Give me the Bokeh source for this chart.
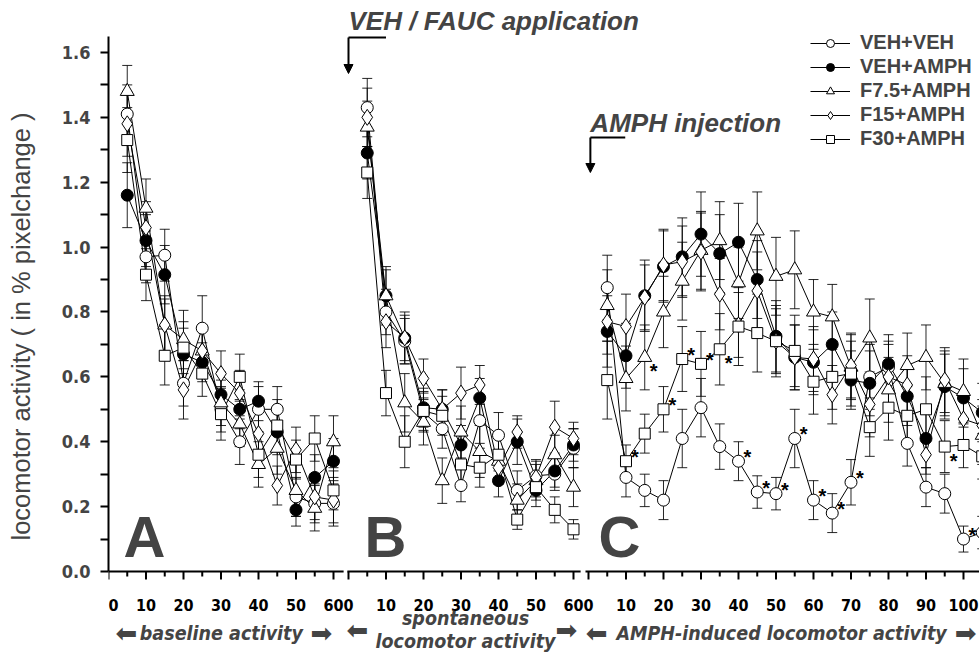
import numpy as np
from bokeh.plotting import figure
from bokeh.models import (Range1d, FixedTicker, NumeralTickFormatter, Label, Legend,
                          LegendItem, Arrow, NormalHead, ColumnDataSource)
from bokeh.core.properties import value
from bokeh.embed import file_html
from bokeh.resources import INLINE

# ---------------- data ----------------
groups = ["VEH+VEH", "VEH+AMPH", "F7.5+AMPH", "F15+AMPH", "F30+AMPH"]

time_A = [5, 10, 15, 20, 25, 30, 35, 40, 45, 50, 55, 60]
time_B = [5, 10, 15, 20, 25, 30, 35, 40, 45, 50, 55, 60]
time_C = [5, 10, 15, 20, 25, 30, 35, 40, 45, 50, 55, 60, 65, 70, 75, 80, 85, 90, 95, 100, 105]

# panel A : baseline activity
A_veh_veh = [1.41, 0.97, 0.975, 0.58, 0.75, 0.50, 0.40, 0.50, 0.50, 0.23, 0.21, 0.21]
A_veh_amph = [1.16, 1.02, 0.915, 0.67, 0.645, 0.545, 0.50, 0.525, 0.43, 0.19, 0.29, 0.34]
A_f75 = [1.48, 1.12, 0.76, 0.715, 0.68, 0.52, 0.455, 0.33, 0.38, 0.25, 0.195, 0.40]
A_f15 = [1.38, 1.06, 0.76, 0.56, 0.68, 0.61, 0.55, 0.425, 0.265, 0.375, 0.23, 0.22]
A_f30 = [1.33, 0.915, 0.665, 0.69, 0.61, 0.485, 0.60, 0.36, 0.45, 0.345, 0.41, 0.25]
A_veh_veh_sem = [0.09, 0.08, 0.08, 0.07, 0.10, 0.07, 0.07, 0.07, 0.07, 0.06, 0.06, 0.07]
A_veh_amph_sem = [0.10, 0.08, 0.09, 0.08, 0.06, 0.07, 0.06, 0.06, 0.07, 0.05, 0.07, 0.07]
A_f75_sem = [0.08, 0.09, 0.09, 0.09, 0.07, 0.07, 0.07, 0.07, 0.08, 0.08, 0.07, 0.08]
A_f15_sem = [0.10, 0.08, 0.08, 0.09, 0.07, 0.07, 0.07, 0.08, 0.06, 0.07, 0.07, 0.07]
A_f30_sem = [0.10, 0.08, 0.09, 0.08, 0.07, 0.08, 0.07, 0.07, 0.08, 0.06, 0.07, 0.06]

# panel B : spontaneous locomotor activity
B_veh_veh = [1.43, 0.80, 0.71, 0.49, 0.44, 0.265, 0.465, 0.42, 0.25, 0.295, 0.30, 0.38]
B_veh_amph = [1.29, 0.85, 0.72, 0.505, 0.50, 0.39, 0.535, 0.28, 0.40, 0.25, 0.31, 0.39]
B_f75 = [1.37, 0.85, 0.52, 0.46, 0.28, 0.43, 0.37, 0.34, 0.22, 0.28, 0.36, 0.26]
B_f15 = [1.40, 0.77, 0.72, 0.595, 0.50, 0.55, 0.575, 0.32, 0.43, 0.29, 0.445, 0.41]
B_f30 = [1.23, 0.55, 0.40, 0.495, 0.48, 0.33, 0.32, 0.36, 0.16, 0.26, 0.19, 0.13]
B_veh_veh_sem = [0.09, 0.07, 0.07, 0.06, 0.06, 0.05, 0.07, 0.07, 0.06, 0.05, 0.05, 0.06]
B_veh_amph_sem = [0.08, 0.08, 0.07, 0.06, 0.06, 0.06, 0.06, 0.05, 0.07, 0.05, 0.05, 0.05]
B_f75_sem = [0.08, 0.09, 0.09, 0.07, 0.07, 0.08, 0.08, 0.07, 0.05, 0.05, 0.06, 0.06]
B_f15_sem = [0.09, 0.08, 0.08, 0.06, 0.06, 0.08, 0.06, 0.05, 0.05, 0.05, 0.08, 0.05]
B_f30_sem = [0.08, 0.07, 0.08, 0.06, 0.06, 0.06, 0.06, 0.05, 0.03, 0.04, 0.04, 0.03]

# panel C : AMPH-induced locomotor activity
C_veh_veh = [0.875, 0.29, 0.25, 0.22, 0.41, 0.505, 0.385, 0.34, 0.245, 0.24, 0.41,
             0.22, 0.18, 0.275, 0.60, 0.63, 0.395, 0.26, 0.24, 0.10, 0.12]
C_veh_amph = [0.74, 0.665, 0.85, 0.94, 0.97, 1.04, 0.98, 1.015, 0.90, 0.725, 0.66,
              0.645, 0.70, 0.59, 0.58, 0.64, 0.54, 0.41, 0.57, 0.535, 0.49]
C_f75 = [0.82, 0.595, 0.66, 0.80, 0.895, 0.99, 1.02, 0.89, 1.05, 0.91, 0.93,
         0.80, 0.785, 0.63, 0.72, 0.56, 0.635, 0.66, 0.58, 0.555, 0.42]
C_f15 = [0.77, 0.755, 0.845, 0.945, 0.955, 0.985, 0.855, 0.76, 0.865, 0.71, 0.66,
         0.655, 0.545, 0.635, 0.515, 0.60, 0.575, 0.36, 0.59, 0.47, 0.45]
C_f30 = [0.59, 0.34, 0.425, 0.50, 0.655, 0.64, 0.685, 0.755, 0.735, 0.71, 0.68,
         0.585, 0.60, 0.61, 0.445, 0.505, 0.48, 0.50, 0.385, 0.39, 0.355]
C_veh_veh_sem = [0.10, 0.06, 0.05, 0.06, 0.09, 0.09, 0.07, 0.06, 0.05, 0.05, 0.09,
                 0.06, 0.06, 0.07, 0.10, 0.08, 0.07, 0.06, 0.06, 0.04, 0.05]
C_veh_amph_sem = [0.11, 0.10, 0.11, 0.11, 0.12, 0.13, 0.12, 0.12, 0.12, 0.11, 0.10,
                  0.10, 0.10, 0.09, 0.10, 0.09, 0.09, 0.09, 0.10, 0.09, 0.09]
C_f75_sem = [0.11, 0.10, 0.10, 0.11, 0.12, 0.12, 0.12, 0.11, 0.12, 0.12, 0.12,
             0.10, 0.10, 0.10, 0.12, 0.10, 0.10, 0.10, 0.10, 0.10, 0.09]
C_f15_sem = [0.10, 0.10, 0.10, 0.11, 0.11, 0.12, 0.11, 0.10, 0.12, 0.10, 0.10,
             0.10, 0.09, 0.10, 0.10, 0.10, 0.09, 0.06, 0.10, 0.08, 0.08]
C_f30_sem = [0.12, 0.05, 0.06, 0.07, 0.10, 0.10, 0.11, 0.12, 0.12, 0.11, 0.11,
             0.10, 0.10, 0.10, 0.09, 0.10, 0.09, 0.10, 0.08, 0.07, 0.07]

# significance asterisks in panel C: (group, time)
stars_above = [("F30+AMPH", 10), ("F30+AMPH", 20), ("F30+AMPH", 25), ("F30+AMPH", 30),
               ("VEH+VEH", 40), ("VEH+VEH", 45), ("VEH+VEH", 50), ("VEH+VEH", 55),
               ("VEH+VEH", 60), ("VEH+VEH", 65), ("VEH+VEH", 70), ("VEH+VEH", 100)]
stars_below = [("F7.5+AMPH", 15), ("F30+AMPH", 35), ("F30+AMPH", 95)]

ticks_A = [0, 10, 20, 30, 40, 50, 60]
ticks_B = [0, 10, 20, 30, 40, 50, 60]
ticks_C = [0, 10, 20, 30, 40, 50, 60, 70, 80, 90, 100]
minor_A = [5, 15, 25, 35, 45, 55]
minor_B = [5, 15, 25, 35, 45, 55]
minor_C = [5, 15, 25, 35, 45, 55, 65, 75, 85, 95, 105]
y_ticks = [0.0, 0.2, 0.4, 0.6, 0.8, 1.0, 1.2, 1.4, 1.6]
y_minor = [0.1, 0.3, 0.5, 0.7, 0.9, 1.1, 1.3, 1.5]

panel_times = {"A": time_A, "B": time_B, "C": time_C}
panel_values = {
    "A": dict(zip(groups, [A_veh_veh, A_veh_amph, A_f75, A_f15, A_f30])),
    "B": dict(zip(groups, [B_veh_veh, B_veh_amph, B_f75, B_f15, B_f30])),
    "C": dict(zip(groups, [C_veh_veh, C_veh_amph, C_f75, C_f15, C_f30])),
}
panel_sems = {
    "A": dict(zip(groups, [A_veh_veh_sem, A_veh_amph_sem, A_f75_sem, A_f15_sem, A_f30_sem])),
    "B": dict(zip(groups, [B_veh_veh_sem, B_veh_amph_sem, B_f75_sem, B_f15_sem, B_f30_sem])),
    "C": dict(zip(groups, [C_veh_veh_sem, C_veh_amph_sem, C_f75_sem, C_f15_sem, C_f30_sem])),
}
panel_ticks = {"A": ticks_A, "B": ticks_B, "C": ticks_C}
panel_minor = {"A": minor_A, "B": minor_B, "C": minor_C}

# ---------------- layout / style ----------------
PX = 324.4                                              # pixels per y unit
panel_offset = {"A": 0.0, "B": 64.0, "C": 128.0}        # minutes along the shared x scale
axis_span = {"A": (0.0, 62.7), "B": (-0.3, 61.9), "C": (-0.8, 106.0)}
marker_style = {
    "VEH+VEH": dict(marker="circle", size=12, fill_color="white"),
    "VEH+AMPH": dict(marker="circle", size=12, fill_color="black"),
    "F7.5+AMPH": dict(marker="triangle", size=14, fill_color="white"),
    "F15+AMPH": dict(marker="diamond", size=16, fill_color="white"),
    "F30+AMPH": dict(marker="square", size=11, fill_color="white"),
}
COND = "DejaVu Sans Condensed"
SANS = "Liberation Sans"

p = figure(width=979, height=652, x_range=Range1d(0, 232.27),
           y_range=Range1d(-81 / PX, 571 / PX), output_backend="svg",
           toolbar_location=None, x_axis_location=None,
           min_border_left=108, min_border_right=0, min_border_top=0, min_border_bottom=0)
p.outline_line_color = None
p.grid.visible = False
p.background_fill_color = "white"

# y axis (library axis on the left)
yax = p.yaxis[0]
yax.ticker = FixedTicker(ticks=y_ticks, minor_ticks=y_minor)
yax.formatter = NumeralTickFormatter(format="0.0")
yax.bounds = (0, 1.65)
yax.axis_line_width = 2
yax.major_tick_line_width = 2
yax.minor_tick_line_width = 2
yax.major_tick_in = 0
yax.major_tick_out = 8
yax.minor_tick_in = 0
yax.minor_tick_out = 8
yax.major_label_text_font = COND
yax.major_label_text_font_style = "bold"
yax.major_label_text_font_size = "18px"
yax.major_label_standoff = 10
yax.axis_label = "locomotor activity ( in % pixelchange )"
yax.axis_label_text_font = SANS
yax.axis_label_text_font_style = "normal"
yax.axis_label_text_font_size = "25.5px"
yax.axis_label_standoff = 24

# x axes of the three panels (broken baseline, ticks, tick labels)
for key in ["A", "B", "C"]:
    off = panel_offset[key]
    a0, a1 = axis_span[key]
    p.segment(x0=[off + a0], y0=[0], x1=[off + a1], y1=[0], line_color="black", line_width=2)
    maj = [off + t for t in panel_ticks[key]]
    mnr = [off + t for t in panel_minor[key]]
    p.segment(x0=maj, y0=[0] * len(maj), x1=maj, y1=[-8 / PX] * len(maj),
              line_color="black", line_width=2)
    p.segment(x0=mnr, y0=[0] * len(mnr), x1=mnr, y1=[-5 / PX] * len(mnr),
              line_color="black", line_width=2)
    labels = [str(t) for t in panel_ticks[key]]
    aligns = ["left" if (key == "A" and t == 0) else "center" for t in panel_ticks[key]]
    src = ColumnDataSource(dict(x=maj, y=[0] * len(maj), text=labels, align=aligns))
    p.text(x="x", y="y", text="text", text_align="align", source=src,
           y_offset=33, text_font=value(COND), text_font_style="bold",
           text_font_size=value("16px"), text_baseline="middle", text_color="black")

# series
legend_renderers = {}
sources = {}
for key in ["A", "B", "C"]:
    off = panel_offset[key]
    for g in groups:
        t = np.array(panel_times[key], dtype=float)
        y = np.array(panel_values[key][g])
        s = np.array(panel_sems[key][g])
        src = ColumnDataSource(dict(x=t + off, y=y, lo=y - s, hi=y + s))
        sources[(key, g)] = src
        p.segment(x0="x", y0="lo", x1="x", y1="hi", source=src, line_color="black",
                  line_width=1, line_alpha=0.85)
        p.scatter(x="x", y="lo", marker="dash", size=10, line_color="black", line_width=1,
                  source=src, line_alpha=0.85)
        p.scatter(x="x", y="hi", marker="dash", size=10, line_color="black", line_width=1,
                  source=src, line_alpha=0.85)
        ln = p.line(x="x", y="y", source=src, line_color="black", line_width=1)
        legend_renderers[(key, g, "line")] = ln

for key in ["A", "B", "C"]:
    for g in groups:
        st = marker_style[g]
        sc = p.scatter(x="x", y="y", source=sources[(key, g)], marker=st["marker"],
                       size=st["size"], fill_color=st["fill_color"], line_color="black",
                       line_width=1)
        legend_renderers[(key, g, "marker")] = sc

# asterisks
def star_xy(lst):
    xs, ys = [], []
    for g, tt in lst:
        i = time_C.index(tt)
        xs.append(panel_offset["C"] + tt)
        ys.append(panel_values["C"][g][i])
    return xs, ys

sx, sy = star_xy(stars_above)
p.text(x=sx, y=sy, text=["*"] * len(sx), x_offset=9, y_offset=-4,
       text_font=value(SANS), text_font_size=value("20px"), text_font_style="bold",
       text_align="center", text_baseline="middle", text_color="black")
sx, sy = star_xy(stars_below)
p.text(x=sx, y=sy, text=["*"] * len(sx), x_offset=9, y_offset=14,
       text_font=value(SANS), text_font_size=value("20px"), text_font_style="bold",
       text_align="center", text_baseline="middle", text_color="black")

# legend
items = [LegendItem(label=g, renderers=[legend_renderers[("C", g, "line")],
                                        legend_renderers[("C", g, "marker")]])
         for g in groups]
legend = Legend(items=items, location=(702, 502), margin=0, padding=4, spacing=1,
                label_height=20, glyph_height=20, glyph_width=40, label_standoff=10,
                border_line_color=None, background_fill_alpha=0,
                label_text_font=SANS, label_text_font_style="bold",
                label_text_font_size="20px")
p.add_layout(legend)

# panel letters
for key, xl in [("A", 4.0), ("B", 4.3), ("C", 2.7)]:
    p.add_layout(Label(x=panel_offset[key] + xl, y=35 / PX, text=key, text_font=SANS,
                       text_font_style="bold", text_font_size="58px",
                       text_align="left", text_baseline="middle"))

# event annotations
p.add_layout(Label(x=panel_offset["B"], y=551 / PX, text="VEH / FAUC application",
                   text_font=SANS, text_font_style="bold italic", text_font_size="26px",
                   text_align="left", text_baseline="middle"))
p.segment(x0=[panel_offset["B"]], y0=[534 / PX], x1=[panel_offset["B"] + 10], y1=[534 / PX],
          line_color="black", line_width=2)
p.add_layout(Arrow(end=NormalHead(size=9, fill_color="black", line_color="black"),
                   x_start=panel_offset["B"], y_start=534 / PX, x_end=panel_offset["B"],
                   y_end=498 / PX, line_width=2, line_color="black"))

p.add_layout(Label(x=panel_offset["C"] + 0.5, y=449 / PX, text="AMPH injection",
                   text_font=SANS, text_font_style="bold italic", text_font_size="26px",
                   text_align="left", text_baseline="middle"))
p.segment(x0=[panel_offset["C"] + 0.5], y0=[434 / PX], x1=[panel_offset["C"] + 9.8],
          y1=[434 / PX], line_color="black", line_width=2)
p.add_layout(Arrow(end=NormalHead(size=9, fill_color="black", line_color="black"),
                   x_start=panel_offset["C"] + 0.5, y_start=434 / PX,
                   x_end=panel_offset["C"] + 0.5, y_end=399 / PX,
                   line_width=2, line_color="black"))

# phase labels under the x axis
lab_kw = dict(text_font=COND, text_font_style="bold italic", text_font_size="19.5px",
              text_align="center", text_baseline="middle")
arr_kw = dict(text_font="DejaVu Sans", text_font_style="normal", text_font_size="26px",
              text_align="center", text_baseline="middle")
p.add_layout(Label(x=panel_offset["A"] + 30.1, y=-62 / PX, text="baseline activity", **lab_kw))
p.add_layout(Label(x=panel_offset["B"] + 31.2, y=-47 / PX, text="spontaneous", **lab_kw))
p.add_layout(Label(x=panel_offset["B"] + 31.2, y=-70 / PX, text="locomotor activity", **lab_kw))
p.add_layout(Label(x=panel_offset["C"] + 51.5, y=-62 / PX,
                   text="AMPH-induced locomotor activity", **lab_kw))
for key, xl, xr, yy in [("A", 4.8, 56.8, -61), ("B", 2.4, 58.1, -58), ("C", 2.2, 100.6, -61)]:
    p.add_layout(Label(x=panel_offset[key] + xl, y=yy / PX, text="\u2b05", **arr_kw))
    p.add_layout(Label(x=panel_offset[key] + xr, y=yy / PX, text="\u27a1", **arr_kw))

open("out.html", "w").write(file_html(p, INLINE))
